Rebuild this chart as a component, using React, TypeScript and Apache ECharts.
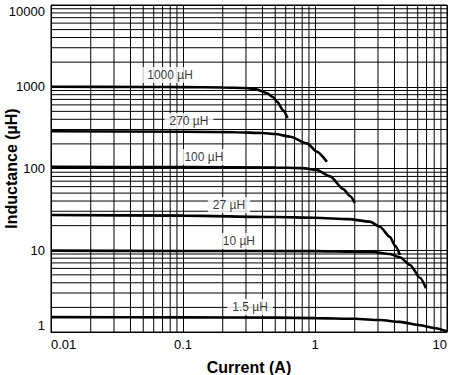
import React, { useEffect, useRef } from 'react';
import * as echarts from 'echarts';

const FONT = '"Liberation Sans", Arial, Helvetica, sans-serif';

const xTickLabels = ['0.01', '0.1', '1', '10'];
const yTickLabels = ['1', '10', '100', '1000', '10000'];
const xDecades = [0.01, 0.1, 1];
const yDecades = [1, 10, 100, 1000];
const minorMultipliers = [2, 3, 4, 5, 6, 7, 8, 9];
const X_MIN = 0.01;
const X_MAX = 10;
const Y_MIN = 1;
const Y_MAX = 10000;

const curveNames = ['1000 µH', '270 µH', '100 µH', '27 µH', '10 µH', '1.5 µH'];

const current1000 = [0.01, 0.05, 0.1, 0.2, 0.3, 0.36, 0.43, 0.48, 0.52, 0.57, 0.62];
const induct1000 = [1000, 995, 990, 980, 965, 930, 840, 750, 650, 520, 415];

const current270 = [0.01, 0.1, 0.25, 0.4, 0.5, 0.65, 0.87, 1.03, 1.23];
const induct270 = [285, 282, 278, 272, 264, 245, 203, 161, 121];

const current100 = [0.01, 0.1, 0.5, 0.8, 1.03, 1.3, 1.64, 1.84, 2.0];
const induct100 = [105, 104, 103, 101, 96, 80, 56, 46, 38];

const current27 = [0.01, 0.1, 0.5, 1.0, 1.8, 2.6, 3.1, 3.7, 4.05, 4.4];
const induct27 = [27, 26.5, 25.5, 25, 24, 22.4, 19.4, 14.5, 11.3, 8.75];

const current10 = [0.01, 0.1, 1, 2, 2.75, 3.7, 4.4, 5.25, 6.24, 6.93];
const induct10 = [9.9, 9.8, 9.75, 9.6, 9.5, 9.0, 8.2, 6.6, 4.6, 3.42];

const current1p5 = [0.01, 0.1, 0.5, 1, 2, 3.1, 4.4, 6.24, 7.9, 10];
const induct1p5 = [1.52, 1.51, 1.5, 1.48, 1.45, 1.4, 1.33, 1.21, 1.12, 1.02];

const curveCurrents = [current1000, current270, current100, current27, current10, current1p5];
const curveInducts = [induct1000, induct270, induct100, induct27, induct10, induct1p5];

// label anchor points (data coordinates)
const labelCurrent = [0.0798, 0.111, 0.144, 0.223, 0.265, 0.322];
const labelInduct = [1393, 381, 138, 35.8, 13.0, 2.02];

export default function App() {
  const ref = useRef<HTMLDivElement>(null);

  useEffect(() => {
    document.body.style.margin = '0';
    const chart = echarts.init(ref.current!, undefined, { renderer: 'svg' });

    const xMinor: number[] = [];
    xDecades.forEach((d) => minorMultipliers.forEach((m) => xMinor.push(m * d)));
    const yMinor: number[] = [];
    yDecades.forEach((d) => minorMultipliers.forEach((m) => yMinor.push(m * d)));

    const xFmt = (v: number) => xTickLabels[Math.round(Math.log10(v)) + 2] ?? String(v);
    const yFmt = (v: number) => yTickLabels[Math.round(Math.log10(v))] ?? String(v);

    const gridLineStyle = { color: '#000', width: 1 };
    const gridSeries: any[] = [
      ...xMinor.map((v) => ({
        type: 'line',
        data: [[v, Y_MIN], [v, Y_MAX]],
        showSymbol: false,
        lineStyle: gridLineStyle,
        silent: true,
        z: 1,
      })),
      ...yMinor.map((v) => ({
        type: 'line',
        data: [[X_MIN, v], [X_MAX, v]],
        showSymbol: false,
        lineStyle: gridLineStyle,
        silent: true,
        z: 1,
      })),
    ];

    const curves = curveNames.map((name, i) => ({
      type: 'line',
      name,
      data: curveCurrents[i].map((c, j) => [c, curveInducts[i][j]]),
      showSymbol: false,
      smooth: 0.25,
      smoothMonotone: 'x',
      lineStyle: { color: '#000', width: 2.6 },
      z: 4,
      silent: true,
    }));

    const labels = {
      type: 'scatter',
      data: curveNames.map((n, i) => ({ name: n, value: [labelCurrent[i], labelInduct[i]] })),
      symbolSize: 1,
      itemStyle: { color: 'transparent' },
      z: 6,
      silent: true,
      label: {
        show: true,
        position: 'inside',
        formatter: (p: any) => p.name,
        backgroundColor: '#ffffff',
        padding: [2, 5],
        color: '#000',
        fontSize: 12,
        fontFamily: FONT,
      },
    };

    chart.setOption({
      animation: false,
      backgroundColor: '#fff',
      textStyle: { fontFamily: FONT },
      grid: {
        left: 51,
        top: 5,
        right: 3,
        bottom: 43,
        containLabel: false,
        outerBoundsMode: 'none',
        show: true,
        borderColor: '#000',
        borderWidth: 1,
        backgroundColor: 'transparent',
      },
      xAxis: {
        type: 'log',
        logBase: 10,
        min: X_MIN,
        max: X_MAX,
        name: 'Current (A)',
        nameLocation: 'middle',
        nameGap: 27,
        nameMoveOverlap: false,
        nameTextStyle: { fontSize: 16, fontWeight: 'bold', color: '#000', fontFamily: FONT },
        axisLine: { show: true, lineStyle: { color: '#000', width: 1 } },
        axisTick: { show: false },
        axisLabel: {
          fontSize: 13,
          color: '#000',
          margin: 6,
          fontFamily: FONT,
          alignMinLabel: 'left',
          alignMaxLabel: 'right',
          formatter: xFmt,
        },
        splitLine: { show: true, lineStyle: { color: '#000', width: 1 } },
      },
      yAxis: {
        type: 'log',
        logBase: 10,
        min: Y_MIN,
        max: Y_MAX,
        name: 'Inductance (µH)',
        nameLocation: 'middle',
        nameGap: 32,
        nameMoveOverlap: false,
        nameTextStyle: { fontSize: 16, fontWeight: 'bold', color: '#000', fontFamily: FONT },
        axisLine: { show: true, lineStyle: { color: '#000', width: 1 } },
        axisTick: { show: false },
        axisLabel: {
          fontSize: 13,
          color: '#000',
          margin: 6,
          fontFamily: FONT,
          verticalAlignMinLabel: 'bottom',
          verticalAlignMaxLabel: 'top',
          formatter: yFmt,
        },
        splitLine: { show: true, lineStyle: { color: '#000', width: 1 } },
      },
      series: [...gridSeries, ...curves, labels],
    });

    return () => chart.dispose();
  }, []);

  return <div ref={ref} style={{ width: 450, height: 375 }} />;
}
